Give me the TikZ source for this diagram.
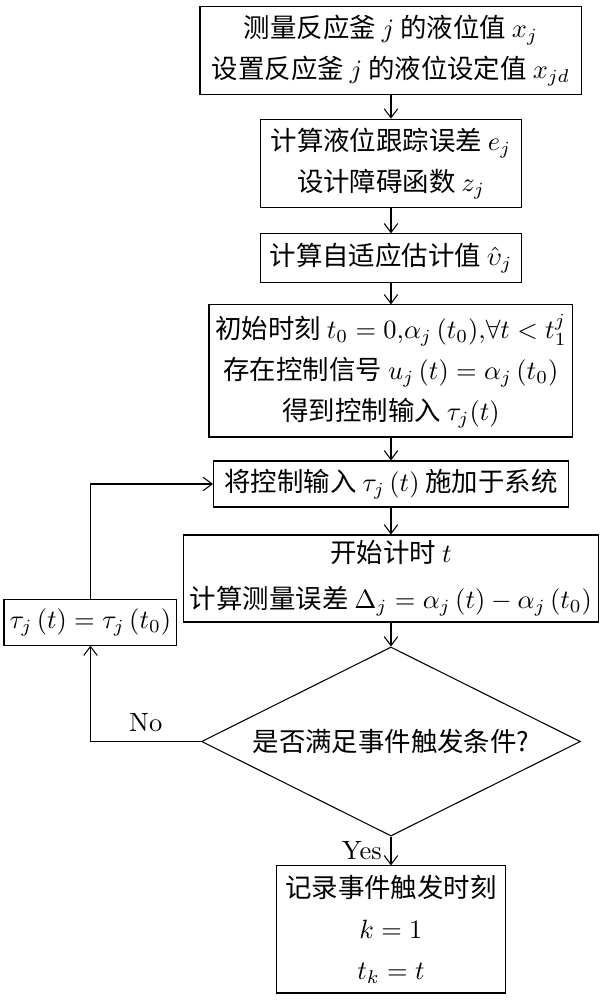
\documentclass[tikz,border=0pt]{standalone}
\usepackage{fontspec}
\newfontfamily\cjk{Noto Sans CJK SC}
\usetikzlibrary{shapes.geometric, arrows.meta}
\usepackage{amsmath}

\begin{document}
\begin{tikzpicture}[
    >={Straight Barb[length=1.2mm, width=1.8mm]},
    stepbox/.style={rectangle, draw, thin, align=center, inner sep=2pt, font=\fontsize{10}{15.5}\selectfont\cjk},
    decision/.style={diamond, draw, thin, aspect=2, inner sep=0pt, font=\fontsize{10}{15.5}\selectfont\cjk},
    every edge/.style={draw, thin, ->}
]
\useasboundingbox (-5.2,0) rectangle (2.846,-13.3);
% Steps
\node[stepbox, minimum width=5.08cm, minimum height=1.18cm] (S1) at (0,-0.672) {测量反应釜 $j$ 的液位值 $x_j$\\设置反应釜 $j$ 的液位设定值 $x_{jd}$};
\node[stepbox, minimum width=3.47cm, minimum height=1.18cm] (S2) at (0,-2.175) {计算液位跟踪误差 $e_j$\\设计障碍函数 $z_j$};
\node[stepbox, minimum width=3.47cm, minimum height=0.64cm] (S3) at (0,-3.431) {计算自适应估计值 $\hat{\upsilon}_j$};
\node[stepbox, minimum width=4.84cm, minimum height=1.756cm] (S4) at (0,-4.934) {初始时刻 $t_0=0{,}\alpha_j\,(t_0){,}\forall t<t_1^j$\\存在控制信号 $u_j\,(t)=\alpha_j\,(t_0)$\\得到控制输入 $\tau_j(t)$};
\node[stepbox, minimum width=4.72cm, minimum height=0.612cm] (S5) at (0,-6.437) {将控制输入 $\tau_j\,(t)$ 施加于系统};
\node[stepbox, minimum width=5.51cm, minimum height=1.157cm] (S6) at (0,-7.694) {开始计时 $t$\\[2pt]计算测量误差 $\Delta_j=\alpha_j\,(t)-\alpha_j\,(t_0)$};
\node[stepbox, minimum width=2.30cm, minimum height=0.60cm] (S7) at (-3.997,-8.279) {$\tau_j\,(t)=\tau_j\,(t_0)$};
\node[decision, minimum width=5.04cm, minimum height=2.514cm] (D) at (0,-9.862) {是否满足事件触发条件?};
\node[stepbox, minimum width=3.05cm, minimum height=1.69cm] (S8) at (0,-12.362) {记录事件触发时刻\\$k=1$\\$t_k=t$};
% Flow
\path (S1) edge (S2);
\path (S2) edge (S3);
\path (S3) edge (S4);
\path (S4) edge (S5);
\path (S5) edge (S6);
\path (S6) edge (D);
\path (D) edge node[left] {Yes} (S8);
% Loop back
\draw[thin, ->] (D.west) -| node[above, pos=0.25] {No} (S7.south);
\draw[thin, ->] (S7.north) |- (S5.west);
\end{tikzpicture}
\end{document}
